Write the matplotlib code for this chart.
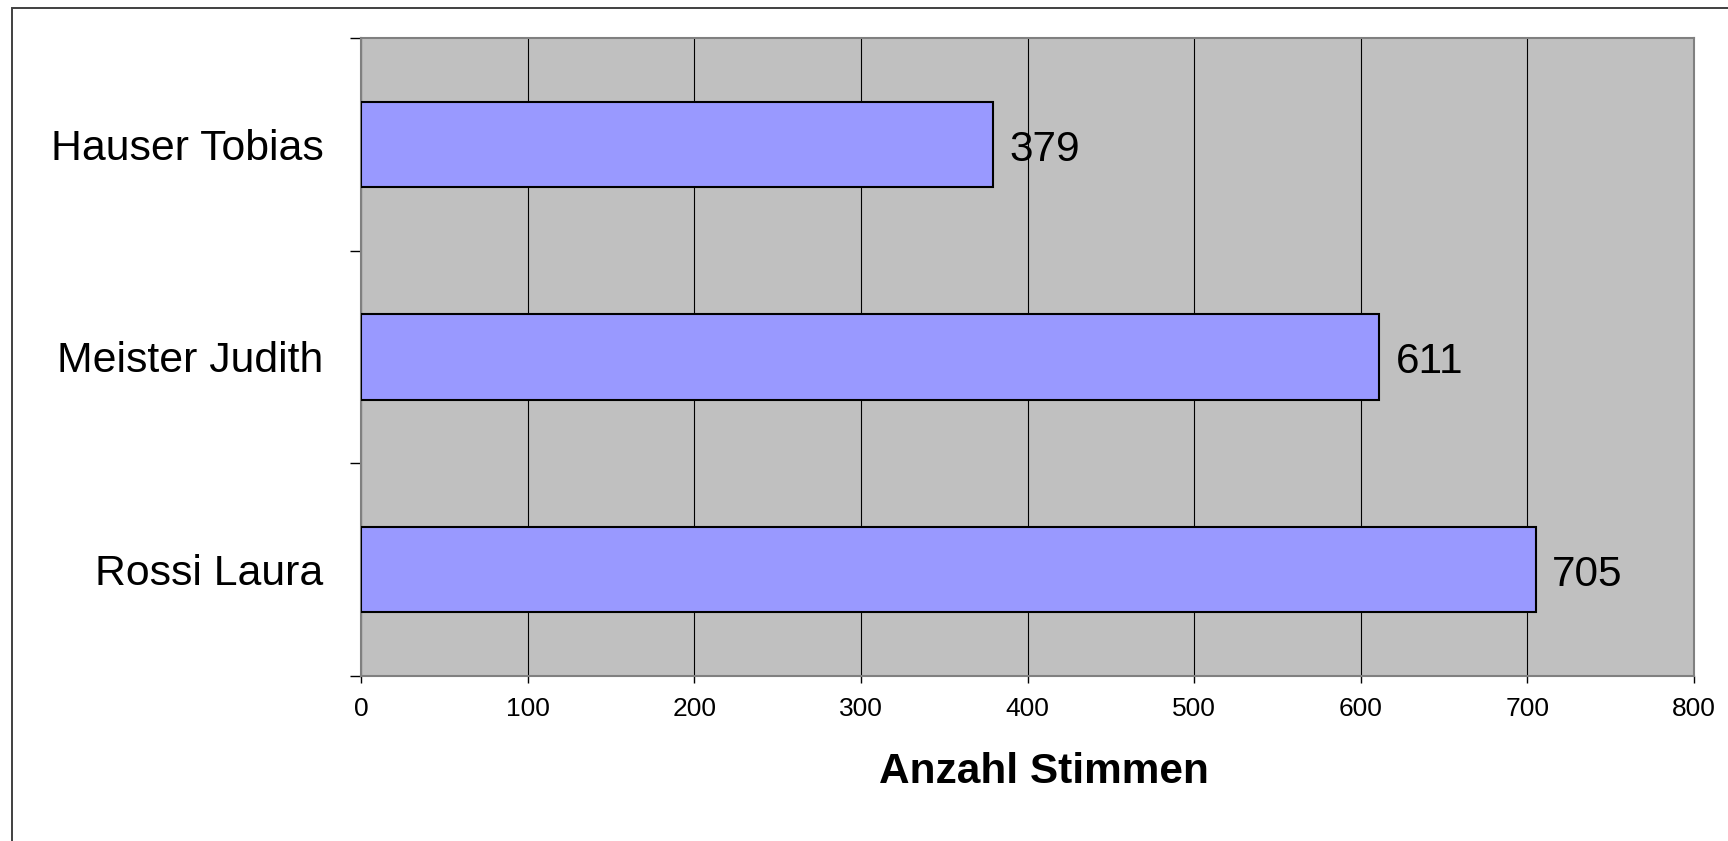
import numpy as np
import matplotlib.pyplot as plt
from matplotlib.patches import Rectangle

# Daten
namen = ["Hauser Tobias", "Meister Judith", "Rossi Laura"]
stimmen = [379, 611, 705]
x_ticks = [0, 100, 200, 300, 400, 500, 600, 700, 800]

plt.rcParams['font.family'] = ['Liberation Sans', 'DejaVu Sans']

fig = plt.figure(figsize=(17.28, 8.41), dpi=100)
ax = fig.add_axes([361/1728, 1 - 676/841, 1333/1728, 638/841])
ax.set_facecolor("#C0C0C0")

y = np.arange(len(namen))
ax.barh(y, stimmen, height=0.4, color="#9999FF", edgecolor="black", linewidth=1.5, zorder=3)

# Werte neben den Balken
for yi, v in zip(y, stimmen):
    ax.text(v + 10, yi + 0.025, str(v), va="center", ha="left", fontsize=30.5, zorder=4)

ax.set_xlim(0, 800)
ax.set_ylim(len(namen) - 0.5, -0.5)
ax.set_xticks(x_ticks)
ax.xaxis.grid(True, color="black", linewidth=0.8, zorder=1)
ax.set_axisbelow(True)

# Kategorien als Minor-Ticks, Striche an den Grenzen
ax.set_yticks(np.arange(-0.5, len(namen)), labels=[])
ax.set_yticks(y, labels=namen, minor=True)
ax.tick_params(axis="y", which="major", length=8, width=1, color="black", direction="out")
ax.tick_params(axis="y", which="minor", length=0, pad=27, labelsize=30.8)
ax.tick_params(axis="x", length=5, width=1, color="black", labelsize=19, pad=10)

for s in ax.spines.values():
    s.set_color("#808080")
    s.set_linewidth(1.5)

ax.set_xlabel("Anzahl Stimmen", fontsize=30.5, fontweight="bold", va="baseline")
ax.xaxis.set_label_coords(0.512, -0.168)

# Rahmen um das Diagramm
fig.add_artist(Rectangle((12/1728, -0.1), 2, 1.1 - 8/841, transform=fig.transFigure,
                         fill=False, edgecolor="#404040", linewidth=1.4, clip_on=False))

plt.savefig("out.png", dpi=100)
